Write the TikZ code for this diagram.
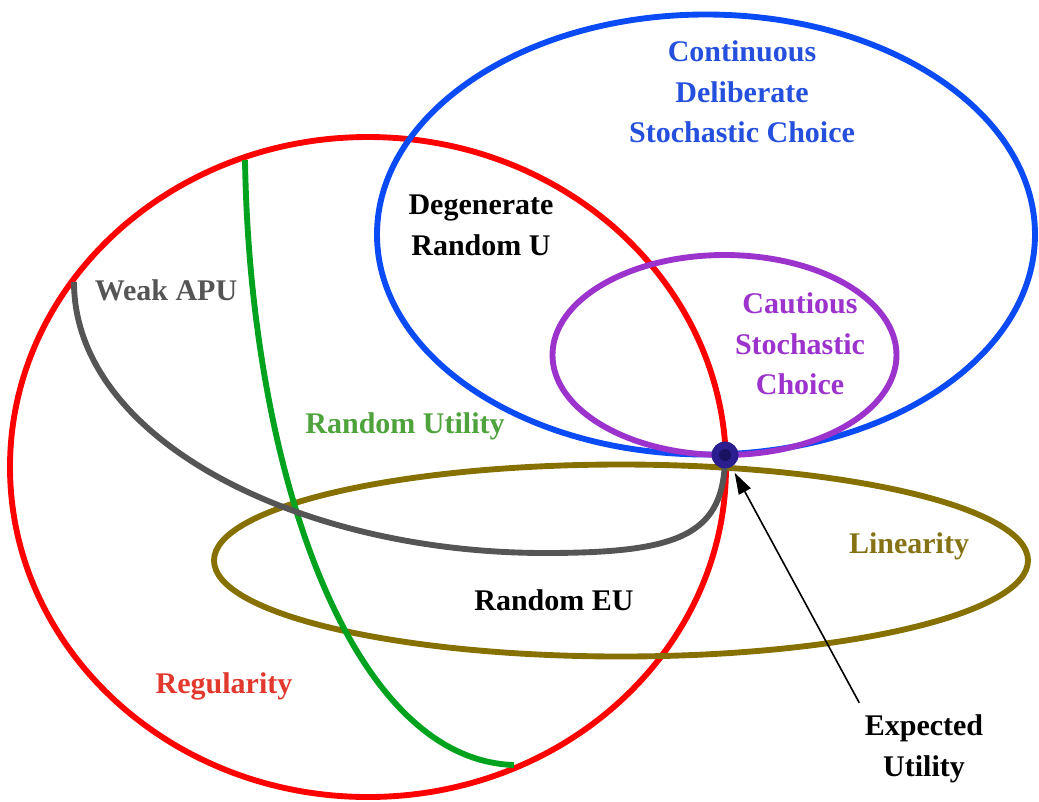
\documentclass[tikz,border=0pt]{standalone}
\usepackage{fontspec}
\setmainfont{Liberation Serif}
\usetikzlibrary{arrows.meta}
\definecolor{cred}{HTML}{FF0000}
\definecolor{cblue}{HTML}{0A4BF5}
\definecolor{cpurple}{HTML}{9B33CC}
\definecolor{colive}{HTML}{857000}
\definecolor{cgray}{HTML}{555555}
\definecolor{cgreen}{HTML}{00A21E}
\definecolor{tblue}{HTML}{2450DD}
\definecolor{tred}{HTML}{E2382E}
\definecolor{tgreen}{HTML}{4FA33C}
\definecolor{tolive}{HTML}{857215}
\definecolor{tpurple}{HTML}{9B33CC}
\definecolor{dotout}{HTML}{2B1F8F}
\definecolor{dotin}{HTML}{1A1260}
\tikzset{
  setline/.style={line width=4.4pt},
  lbl/.style={font=\fontsize{22.5}{30.5}\selectfont\bfseries, align=center, inner sep=0pt},
}
\begin{document}
\begin{tikzpicture}[x=0.75pt,y=-0.75pt]
\path[use as bounding box] (0,0) rectangle (1039,801);
% sets
\draw[setline, cred] (368,467) ellipse [x radius=358, y radius=330];
\draw[setline, cblue] (706,234.5) ellipse [x radius=329, y radius=220];
\draw[setline, colive] (621,560.5) ellipse [x radius=407, y radius=96];
\draw[setline, cpurple] (724.5,355) ellipse [x radius=172, y radius=100];
% curves
\coordinate (g0) at (245,160);
\coordinate (g1) at (514,765);
\draw[setline, cgreen] (g0) .. controls (250,470) and (350,760) .. (g1);
\coordinate (w0) at (74,282);
\coordinate (wm) at (545,553);
\node[circle, fill=dotout, minimum size=20pt, inner sep=0pt] (dot) at (725,455) {};
\draw[setline, cgray] (w0) .. controls (74,440) and (300,553) .. (wm)
   .. controls (680,553) and (725,535) .. (dot.center);
\node[circle, fill=dotout, minimum size=20pt, inner sep=0pt] at (dot) {};
\node[circle, fill=dotin, minimum size=9pt, inner sep=0pt] at (dot) {};
% labels
\node[lbl, text=tblue] (cdsc) at (742,92) {Continuous\\Deliberate\\Stochastic Choice};
\node[lbl] (drU) at (481,225) {Degenerate\\Random U};
\node[lbl, text=tpurple] (csc) at (800,344) {Cautious\\Stochastic\\Choice};
\node[lbl, text=cgray] (wapu) at (166,290) {Weak APU};
\node[lbl, text=tgreen] (ru) at (405,426) {Random Utility};
\node[lbl, text=tolive] (lin) at (909,546) {Linearity};
\node[lbl] (reu) at (554,600) {Random EU};
\node[lbl, text=tred] (reg) at (224,686) {Regularity};
\node[lbl] (exu) at (924,749) {Expected\\Utility};
% arrow
\draw[line width=1.2pt, -{Triangle[length=16pt,width=10pt]}, shorten >=5pt]
  ([xshift=-4pt,yshift=9pt]exu.north west) -- (dot);
\end{tikzpicture}
\end{document}
